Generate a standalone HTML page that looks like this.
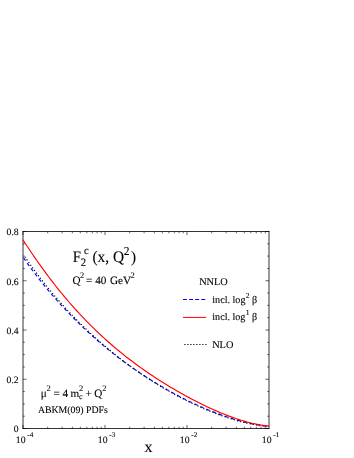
<!DOCTYPE html>
<html><head><meta charset="utf-8"><style>
html,body{margin:0;padding:0;background:#fff;}
svg{display:block;will-change:transform;}
text{font-family:"Liberation Serif",serif;fill:#000;stroke:#000;stroke-width:0.1px;text-rendering:geometricPrecision;}
</style></head><body>
<svg width="354" height="458" viewBox="0 0 354 458">
<rect width="354" height="458" fill="#fff"/>
<g stroke="#000" stroke-width="0.8" fill="none">
<line x1="23.0" y1="231.1" x2="23.0" y2="428.9"/>
<line x1="269.0" y1="231.1" x2="269.0" y2="428.9"/>
<line x1="22.6" y1="231.5" x2="269.4" y2="231.5"/>
<line x1="22.6" y1="428.5" x2="269.4" y2="428.5"/>
</g>
<g stroke="#000" stroke-width="0.6" fill="none">
<line x1="23.0" y1="428.50" x2="26.6" y2="428.50"/>
<line x1="269.0" y1="428.50" x2="265.4" y2="428.50"/>
<line x1="23.0" y1="416.19" x2="24.8" y2="416.19"/>
<line x1="269.0" y1="416.19" x2="267.2" y2="416.19"/>
<line x1="23.0" y1="403.88" x2="24.8" y2="403.88"/>
<line x1="269.0" y1="403.88" x2="267.2" y2="403.88"/>
<line x1="23.0" y1="391.56" x2="24.8" y2="391.56"/>
<line x1="269.0" y1="391.56" x2="267.2" y2="391.56"/>
<line x1="23.0" y1="379.25" x2="26.6" y2="379.25"/>
<line x1="269.0" y1="379.25" x2="265.4" y2="379.25"/>
<line x1="23.0" y1="366.94" x2="24.8" y2="366.94"/>
<line x1="269.0" y1="366.94" x2="267.2" y2="366.94"/>
<line x1="23.0" y1="354.62" x2="24.8" y2="354.62"/>
<line x1="269.0" y1="354.62" x2="267.2" y2="354.62"/>
<line x1="23.0" y1="342.31" x2="24.8" y2="342.31"/>
<line x1="269.0" y1="342.31" x2="267.2" y2="342.31"/>
<line x1="23.0" y1="330.00" x2="26.6" y2="330.00"/>
<line x1="269.0" y1="330.00" x2="265.4" y2="330.00"/>
<line x1="23.0" y1="317.69" x2="24.8" y2="317.69"/>
<line x1="269.0" y1="317.69" x2="267.2" y2="317.69"/>
<line x1="23.0" y1="305.38" x2="24.8" y2="305.38"/>
<line x1="269.0" y1="305.38" x2="267.2" y2="305.38"/>
<line x1="23.0" y1="293.06" x2="24.8" y2="293.06"/>
<line x1="269.0" y1="293.06" x2="267.2" y2="293.06"/>
<line x1="23.0" y1="280.75" x2="26.6" y2="280.75"/>
<line x1="269.0" y1="280.75" x2="265.4" y2="280.75"/>
<line x1="23.0" y1="268.44" x2="24.8" y2="268.44"/>
<line x1="269.0" y1="268.44" x2="267.2" y2="268.44"/>
<line x1="23.0" y1="256.12" x2="24.8" y2="256.12"/>
<line x1="269.0" y1="256.12" x2="267.2" y2="256.12"/>
<line x1="23.0" y1="243.81" x2="24.8" y2="243.81"/>
<line x1="269.0" y1="243.81" x2="267.2" y2="243.81"/>
<line x1="23.0" y1="231.50" x2="26.6" y2="231.50"/>
<line x1="269.0" y1="231.50" x2="265.4" y2="231.50"/>
<line x1="23.00" y1="428.5" x2="23.00" y2="424.9"/>
<line x1="23.00" y1="231.5" x2="23.00" y2="235.1"/>
<line x1="47.68" y1="428.5" x2="47.68" y2="426.7"/>
<line x1="47.68" y1="231.5" x2="47.68" y2="233.3"/>
<line x1="62.12" y1="428.5" x2="62.12" y2="426.7"/>
<line x1="62.12" y1="231.5" x2="62.12" y2="233.3"/>
<line x1="72.37" y1="428.5" x2="72.37" y2="426.7"/>
<line x1="72.37" y1="231.5" x2="72.37" y2="233.3"/>
<line x1="80.32" y1="428.5" x2="80.32" y2="426.7"/>
<line x1="80.32" y1="231.5" x2="80.32" y2="233.3"/>
<line x1="86.81" y1="428.5" x2="86.81" y2="426.7"/>
<line x1="86.81" y1="231.5" x2="86.81" y2="233.3"/>
<line x1="92.30" y1="428.5" x2="92.30" y2="426.7"/>
<line x1="92.30" y1="231.5" x2="92.30" y2="233.3"/>
<line x1="97.05" y1="428.5" x2="97.05" y2="426.7"/>
<line x1="97.05" y1="231.5" x2="97.05" y2="233.3"/>
<line x1="101.25" y1="428.5" x2="101.25" y2="426.7"/>
<line x1="101.25" y1="231.5" x2="101.25" y2="233.3"/>
<line x1="105.00" y1="428.5" x2="105.00" y2="424.9"/>
<line x1="105.00" y1="231.5" x2="105.00" y2="235.1"/>
<line x1="129.68" y1="428.5" x2="129.68" y2="426.7"/>
<line x1="129.68" y1="231.5" x2="129.68" y2="233.3"/>
<line x1="144.12" y1="428.5" x2="144.12" y2="426.7"/>
<line x1="144.12" y1="231.5" x2="144.12" y2="233.3"/>
<line x1="154.37" y1="428.5" x2="154.37" y2="426.7"/>
<line x1="154.37" y1="231.5" x2="154.37" y2="233.3"/>
<line x1="162.32" y1="428.5" x2="162.32" y2="426.7"/>
<line x1="162.32" y1="231.5" x2="162.32" y2="233.3"/>
<line x1="168.81" y1="428.5" x2="168.81" y2="426.7"/>
<line x1="168.81" y1="231.5" x2="168.81" y2="233.3"/>
<line x1="174.30" y1="428.5" x2="174.30" y2="426.7"/>
<line x1="174.30" y1="231.5" x2="174.30" y2="233.3"/>
<line x1="179.05" y1="428.5" x2="179.05" y2="426.7"/>
<line x1="179.05" y1="231.5" x2="179.05" y2="233.3"/>
<line x1="183.25" y1="428.5" x2="183.25" y2="426.7"/>
<line x1="183.25" y1="231.5" x2="183.25" y2="233.3"/>
<line x1="187.00" y1="428.5" x2="187.00" y2="424.9"/>
<line x1="187.00" y1="231.5" x2="187.00" y2="235.1"/>
<line x1="211.68" y1="428.5" x2="211.68" y2="426.7"/>
<line x1="211.68" y1="231.5" x2="211.68" y2="233.3"/>
<line x1="226.12" y1="428.5" x2="226.12" y2="426.7"/>
<line x1="226.12" y1="231.5" x2="226.12" y2="233.3"/>
<line x1="236.37" y1="428.5" x2="236.37" y2="426.7"/>
<line x1="236.37" y1="231.5" x2="236.37" y2="233.3"/>
<line x1="244.32" y1="428.5" x2="244.32" y2="426.7"/>
<line x1="244.32" y1="231.5" x2="244.32" y2="233.3"/>
<line x1="250.81" y1="428.5" x2="250.81" y2="426.7"/>
<line x1="250.81" y1="231.5" x2="250.81" y2="233.3"/>
<line x1="256.30" y1="428.5" x2="256.30" y2="426.7"/>
<line x1="256.30" y1="231.5" x2="256.30" y2="233.3"/>
<line x1="261.05" y1="428.5" x2="261.05" y2="426.7"/>
<line x1="261.05" y1="231.5" x2="261.05" y2="233.3"/>
<line x1="265.25" y1="428.5" x2="265.25" y2="426.7"/>
<line x1="265.25" y1="231.5" x2="265.25" y2="233.3"/>
</g>
<g fill="none">
<path d="M23.00,257.08 L25.00,259.95 L27.00,262.78 L29.00,265.56 L31.00,268.30 L33.00,271.00 L35.00,273.66 L37.00,276.27 L39.00,278.85 L41.00,281.39 L43.00,283.89 L45.00,286.35 L47.00,288.78 L49.00,291.17 L51.00,293.53 L53.00,295.86 L55.00,298.16 L57.00,300.42 L59.00,302.66 L61.00,304.86 L63.00,307.03 L65.00,309.18 L67.00,311.30 L69.00,313.39 L71.00,315.45 L73.00,317.49 L75.00,319.50 L77.00,321.49 L79.00,323.45 L81.00,325.38 L83.00,327.30 L85.00,329.19 L87.00,331.05 L89.00,332.90 L91.00,334.72 L93.00,336.51 L95.00,338.29 L97.00,340.04 L99.00,341.78 L101.00,343.49 L103.00,345.18 L105.00,346.85 L107.00,348.49 L109.00,350.12 L111.00,351.73 L113.00,353.32 L115.00,354.89 L117.00,356.44 L119.00,357.98 L121.00,359.49 L123.00,360.98 L125.00,362.46 L127.00,363.92 L129.00,365.36 L131.00,366.79 L133.00,368.19 L135.00,369.58 L137.00,370.95 L139.00,372.31 L141.00,373.65 L143.00,374.97 L145.00,376.28 L147.00,377.57 L149.00,378.85 L151.00,380.11 L153.00,381.35 L155.00,382.58 L157.00,383.79 L159.00,384.99 L161.00,386.18 L163.00,387.34 L165.00,388.50 L167.00,389.64 L169.00,390.76 L171.00,391.87 L173.00,392.97 L175.00,394.05 L177.00,395.12 L179.00,396.17 L181.00,397.21 L183.00,398.23 L185.00,399.24 L187.00,400.23 L189.00,401.21 L191.00,402.18 L193.00,403.13 L195.00,404.07 L197.00,404.99 L199.00,405.90 L201.00,406.79 L203.00,407.66 L205.00,408.52 L207.00,409.37 L209.00,410.20 L211.00,411.02 L213.00,411.81 L215.00,412.60 L217.00,413.36 L219.00,414.11 L221.00,414.85 L223.00,415.56 L225.00,416.26 L227.00,416.94 L229.00,417.61 L231.00,418.25 L233.00,418.88 L235.00,419.48 L237.00,420.07 L239.00,420.64 L241.00,421.18 L243.00,421.71 L245.00,422.21 L247.00,422.69 L249.00,423.15 L251.00,423.58 L253.00,423.99 L255.00,424.38 L257.00,424.73 L259.00,425.07 L261.00,425.37 L263.00,425.65 L265.00,425.90 L267.00,426.12 L269.00,426.30" stroke="#0000ff" stroke-width="1.15" stroke-dasharray="3.6 2.9" stroke-dashoffset="-0.8"/>
<path d="M24.44,256.09 L26.41,258.97 L28.37,261.80 L30.34,264.59 L32.31,267.34 L34.28,270.05 L36.24,272.71 L38.21,275.34 L40.18,277.93 L42.15,280.47 L44.12,282.99 L46.09,285.46 L48.06,287.90 L50.03,290.31 L52.00,292.69 L53.97,295.03 L55.94,297.34 L57.91,299.62 L59.88,301.86 L61.85,304.08 L63.82,306.27 L65.79,308.44 L67.77,310.57 L69.74,312.68 L71.71,314.76 L73.68,316.81 L75.66,318.84 L77.63,320.85 L79.61,322.83 L81.58,324.78 L83.55,326.71 L85.53,328.62 L87.50,330.51 L89.48,332.37 L91.45,334.21 L93.43,336.03 L95.41,337.83 L97.38,339.60 L99.36,341.36 L101.34,343.09 L103.31,344.80 L105.29,346.49 L107.27,348.17 L109.25,349.82 L111.23,351.45 L113.21,353.06 L115.18,354.66 L117.17,356.23 L119.15,357.78 L121.13,359.32 L123.11,360.84 L125.09,362.33 L127.08,363.82 L129.06,365.28 L131.04,366.73 L133.02,368.16 L135.01,369.57 L136.99,370.96 L138.98,372.34 L140.97,373.70 L142.95,375.04 L144.94,376.37 L146.93,377.68 L148.92,378.98 L150.91,380.26 L152.89,381.52 L154.88,382.77 L156.87,384.00 L158.86,385.22 L160.85,386.43 L162.84,387.62 L164.83,388.79 L166.82,389.95 L168.81,391.10 L170.80,392.23 L172.80,393.34 L174.79,394.43 L176.79,395.51 L178.79,396.58 L180.78,397.63 L182.78,398.66 L184.78,399.69 L186.77,400.69 L188.77,401.69 L190.77,402.67 L192.76,403.63 L194.76,404.58 L196.76,405.52 L198.76,406.44 L200.76,407.33 L202.76,408.21 L204.77,409.07 L206.77,409.91 L208.78,410.74 L210.79,411.55 L212.79,412.34 L214.80,413.12 L216.80,413.89 L218.81,414.63 L220.81,415.36 L222.82,416.08 L224.82,416.77 L226.83,417.45 L228.84,418.11 L230.84,418.75 L232.85,419.37 L234.85,419.98 L236.86,420.56 L238.87,421.12 L240.87,421.66 L242.88,422.16 L244.89,422.65 L246.90,423.11 L248.91,423.55 L250.92,423.96 L252.93,424.35 L254.94,424.71 L256.94,425.05 L258.95,425.37 L260.96,425.65 L262.97,425.91 L264.97,426.14 L266.98,426.34 L268.98,426.50" stroke="#000" stroke-width="1.15" stroke-dasharray="1.15 2.1" stroke-dashoffset="-0.8"/>
<path d="M23.00,239.83 L25.00,242.94 L27.00,246.00 L29.00,249.02 L31.00,252.01 L33.00,254.96 L35.00,257.87 L37.00,260.74 L39.00,263.58 L41.00,266.39 L43.00,269.15 L45.00,271.88 L47.00,274.58 L49.00,277.24 L51.00,279.87 L53.00,282.46 L55.00,285.02 L57.00,287.54 L59.00,290.03 L61.00,292.49 L63.00,294.92 L65.00,297.31 L67.00,299.67 L69.00,302.00 L71.00,304.30 L73.00,306.57 L75.00,308.81 L77.00,311.01 L79.00,313.19 L81.00,315.34 L83.00,317.46 L85.00,319.55 L87.00,321.61 L89.00,323.64 L91.00,325.65 L93.00,327.63 L95.00,329.58 L97.00,331.50 L99.00,333.40 L101.00,335.28 L103.00,337.12 L105.00,338.94 L107.00,340.74 L109.00,342.51 L111.00,344.26 L113.00,345.99 L115.00,347.69 L117.00,349.37 L119.00,351.02 L121.00,352.66 L123.00,354.27 L125.00,355.86 L127.00,357.43 L129.00,358.98 L131.00,360.51 L133.00,362.02 L135.00,363.51 L137.00,364.98 L139.00,366.43 L141.00,367.86 L143.00,369.28 L145.00,370.67 L147.00,372.06 L149.00,373.42 L151.00,374.77 L153.00,376.10 L155.00,377.41 L157.00,378.71 L159.00,380.00 L161.00,381.27 L163.00,382.53 L165.00,383.77 L167.00,385.00 L169.00,386.21 L171.00,387.41 L173.00,388.60 L175.00,389.77 L177.00,390.94 L179.00,392.08 L181.00,393.22 L183.00,394.34 L185.00,395.44 L187.00,396.54 L189.00,397.62 L191.00,398.69 L193.00,399.74 L195.00,400.78 L197.00,401.80 L199.00,402.82 L201.00,403.81 L203.00,404.80 L205.00,405.76 L207.00,406.72 L209.00,407.66 L211.00,408.58 L213.00,409.48 L215.00,410.37 L217.00,411.24 L219.00,412.10 L221.00,412.94 L223.00,413.76 L225.00,414.56 L227.00,415.34 L229.00,416.10 L231.00,416.84 L233.00,417.56 L235.00,418.25 L237.00,418.93 L239.00,419.58 L241.00,420.21 L243.00,420.82 L245.00,421.39 L247.00,421.95 L249.00,422.47 L251.00,422.97 L253.00,423.44 L255.00,423.88 L257.00,424.29 L259.00,424.67 L261.00,425.02 L263.00,425.33 L265.00,425.61 L267.00,425.85 L269.00,426.06" stroke="#ff0000" stroke-width="1.15"/>
</g>
<g fill="none" stroke-width="1">
<line x1="183" y1="299.5" x2="206.5" y2="299.5" stroke="#0000ff" stroke-dasharray="3.9 2.2"/>
<line x1="183" y1="317.4" x2="206.2" y2="317.4" stroke="#ff0000"/>
<line x1="184.3" y1="344.5" x2="206.5" y2="344.5" stroke="#000" stroke-dasharray="1.2 1.8"/>
</g>
<text transform="translate(72.8,262.1) scale(0.92,1)" font-size="16px">F</text>
<text transform="translate(80.8,265.9) scale(0.95,1)" font-size="11.2px">2</text>
<text transform="translate(84.0,254.4) scale(0.95,1)" font-size="11.2px">c</text>
<text transform="translate(92.4,262.1) scale(0.96,1)" font-size="16px">(x,</text>
<text transform="translate(112.9,262.1) scale(0.96,1)" font-size="16px">Q</text>
<text transform="translate(123.7,254.5) scale(0.95,1)" font-size="12px">2</text>
<text transform="translate(131.0,262.1) scale(0.95,1)" font-size="16px">)</text>
<text x="72.6" y="284.0" font-size="11.2px">Q</text>
<text x="80.0" y="278.2" font-size="8.4px">2</text>
<text x="86.1" y="284.0" font-size="11.2px">=</text>
<text x="95.2" y="284.0" font-size="11.2px">40</text>
<text x="110.0" y="284.0" font-size="11.2px">GeV</text>
<text x="130.6" y="278.2" font-size="8.4px">2</text>
<text x="40.7" y="397.2" font-size="11.2px">μ</text>
<text x="46.5" y="391.0" font-size="8.4px">2</text>
<text x="53.4" y="397.2" font-size="11.2px">=</text>
<text x="62.6" y="397.2" font-size="11.2px">4</text>
<text x="70.6" y="397.2" font-size="11.2px">m</text>
<text x="79.0" y="391.2" font-size="8.4px">2</text>
<text x="79.0" y="399.4" font-size="8.0px">c</text>
<text x="85.5" y="397.2" font-size="11.2px">+</text>
<text x="94.3" y="397.2" font-size="11.2px">Q</text>
<text x="102.3" y="391.0" font-size="8.4px">2</text>
<text x="37.9" y="413.4" font-size="9.8px">ABKM(09) PDFs</text>
<text x="199.2" y="284.6" font-size="10.3px">NNLO</text>
<text x="212.3" y="302.7" font-size="10.15px">incl. log</text>
<text x="245.8" y="297.8" font-size="7.6px">2</text>
<text x="252.0" y="302.7" font-size="10.1px">β</text>
<text x="212.3" y="320.3" font-size="10.1px">incl. log</text>
<text x="245.8" y="315.4" font-size="7.6px">1</text>
<text x="252.0" y="320.3" font-size="10.1px">β</text>
<text x="212.2" y="347.8" font-size="10.3px">NLO</text>
<text x="18.7" y="235.3" font-size="9.7px" text-anchor="end">0.8</text>
<text x="18.7" y="284.5" font-size="9.7px" text-anchor="end">0.6</text>
<text x="18.7" y="333.8" font-size="9.7px" text-anchor="end">0.4</text>
<text x="18.7" y="383.0" font-size="9.7px" text-anchor="end">0.2</text>
<text x="18.7" y="432.2" font-size="9.7px" text-anchor="end">0</text>
<text x="15.8" y="442.8" font-size="9.7px">10</text>
<text x="27.3" y="436.7" font-size="7.2px">-4</text>
<text x="97.8" y="442.8" font-size="9.7px">10</text>
<text x="109.3" y="436.7" font-size="7.2px">-3</text>
<text x="179.8" y="442.8" font-size="9.7px">10</text>
<text x="191.3" y="436.7" font-size="7.2px">-2</text>
<text x="261.8" y="442.8" font-size="9.7px">10</text>
<text x="273.3" y="436.7" font-size="7.2px">-1</text>
<text x="144.4" y="451.8" font-size="16px">x</text>
</svg>
</body></html>
